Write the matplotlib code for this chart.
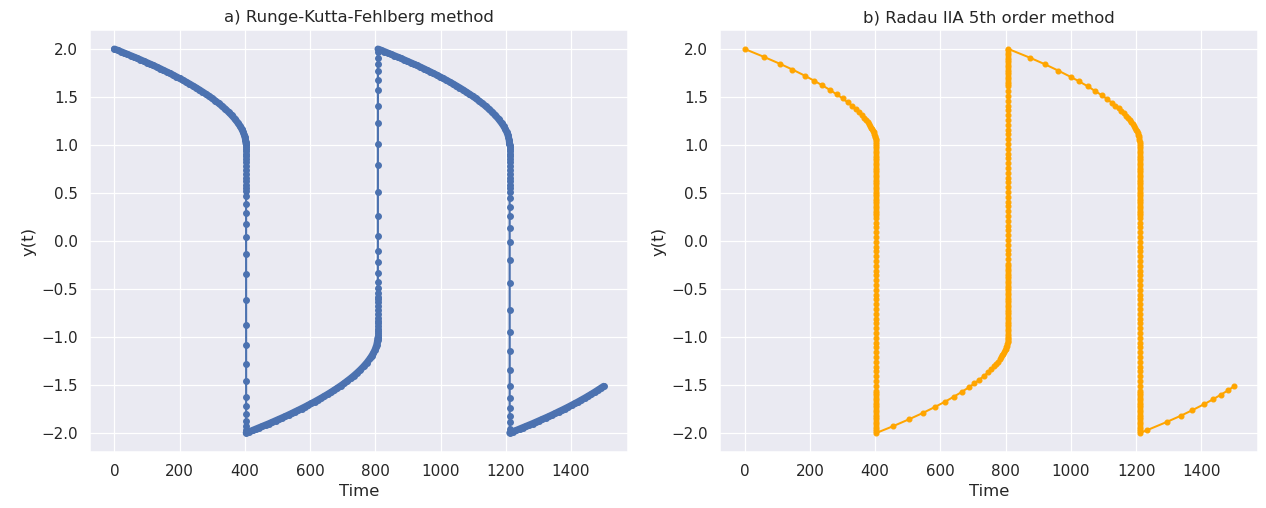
import matplotlib
matplotlib.use('Agg')
import matplotlib.pyplot as plt
import seaborn as sns
import numpy as np

# ---- values ----
# Runge-Kutta-Fehlberg: slow branches (dense steps) and the fast jumps
rkf_t_up1 = [0, 10, 20, 30, 40, 50, 60, 70, 80, 90, 100, 110, 120, 130, 140, 150, 160, 170, 180, 190,
             200, 210, 220, 230, 240, 250, 260, 270, 280, 290, 300, 310, 320, 330, 340, 350, 360, 370, 380,
             385, 390, 395, 398, 400, 402, 403, 403.3]
rkf_y_up1 = [2.000, 1.987, 1.973, 1.959, 1.945, 1.931, 1.917, 1.903, 1.888, 1.873, 1.858, 1.843, 1.828,
             1.812, 1.796, 1.779, 1.763, 1.746, 1.729, 1.711, 1.693, 1.675, 1.656, 1.637, 1.617, 1.597,
             1.576, 1.554, 1.532, 1.509, 1.485, 1.459, 1.433, 1.405, 1.375, 1.343, 1.308, 1.269, 1.224,
             1.198, 1.169, 1.134, 1.106, 1.086, 1.054, 1.028, 1.014]
rkf_drop1_y = [1.0, 0.98, 0.96, 0.94, 0.91, 0.88, 0.85, 0.82, 0.78, 0.74, 0.70, 0.66, 0.62, 0.58, 0.55,
               0.524, 0.466, 0.386, 0.290, 0.179, 0.041, -0.131, -0.345, -0.614, -0.876, -1.083, -1.286,
               -1.462, -1.621, -1.724, -1.803, -1.872, -1.924, -1.97]
rkf_t_low1 = [404, 414, 424, 434, 444, 454, 464, 474, 484, 494, 504, 514, 524, 534, 544, 554, 564, 574, 584,
              594, 604, 614, 624, 634, 644, 654, 664, 674, 684, 694, 704, 714, 724, 734, 744, 754, 764, 774,
              784, 789, 794, 799, 802, 804, 806, 807, 807.3]
rkf_y_low1 = [-2.000, -1.987, -1.973, -1.959, -1.945, -1.931, -1.917, -1.903, -1.888, -1.873, -1.858,
              -1.843, -1.828, -1.812, -1.796, -1.779, -1.763, -1.746, -1.729, -1.711, -1.693, -1.675,
              -1.656, -1.637, -1.617, -1.597, -1.576, -1.554, -1.532, -1.509, -1.485, -1.459, -1.433,
              -1.405, -1.375, -1.343, -1.308, -1.269, -1.224, -1.198, -1.169, -1.134, -1.106, -1.086,
              -1.054, -1.028, -1.014]
rkf_rise_y = [-1.0, -0.98, -0.96, -0.94, -0.92, -0.89, -0.86, -0.83, -0.80, -0.76, -0.72, -0.68, -0.64,
              -0.60, -0.579, -0.545, -0.493, -0.424, -0.331, -0.224, -0.100, 0.055, 0.255, 0.507, 0.790,
              1.007, 1.224, 1.407, 1.569, 1.679, 1.772, 1.841, 1.903, 1.966]
rkf_t_up2 = [808, 818, 828, 838, 848, 858, 868, 878, 888, 898, 908, 918, 928, 938, 948, 958, 968, 978, 988,
             998, 1008, 1018, 1028, 1038, 1048, 1058, 1068, 1078, 1088, 1098, 1108, 1118, 1128, 1138, 1148,
             1158, 1168, 1178, 1188, 1193, 1198, 1203, 1206, 1208, 1210, 1211, 1211.3]
rkf_y_up2 = [2.000, 1.987, 1.973, 1.959, 1.945, 1.931, 1.917, 1.903, 1.888, 1.873, 1.858, 1.843, 1.828,
             1.812, 1.796, 1.779, 1.763, 1.746, 1.729, 1.711, 1.693, 1.675, 1.656, 1.637, 1.617, 1.597,
             1.576, 1.554, 1.532, 1.509, 1.485, 1.459, 1.433, 1.405, 1.375, 1.343, 1.308, 1.269, 1.224,
             1.198, 1.169, 1.134, 1.106, 1.086, 1.054, 1.028, 1.014]
rkf_drop2_y = [1.0, 0.98, 0.96, 0.94, 0.91, 0.88, 0.85, 0.82, 0.78, 0.74, 0.70, 0.66, 0.62, 0.58, 0.55,
               0.514, 0.445, 0.352, 0.255, 0.131, -0.014, -0.200, -0.438, -0.717, -0.948, -1.148, -1.345,
               -1.510, -1.638, -1.741, -1.821, -1.890, -1.959]
rkf_t_low2 = [1212, 1222, 1232, 1242, 1252, 1262, 1272, 1282, 1292, 1302, 1312, 1322, 1332, 1342, 1352,
              1362, 1372, 1382, 1392, 1402, 1412, 1422, 1432, 1442, 1452, 1462, 1472, 1482, 1492, 1500]
rkf_y_low2 = [-2.000, -1.987, -1.973, -1.959, -1.945, -1.931, -1.917, -1.903, -1.888, -1.873, -1.858,
              -1.843, -1.828, -1.812, -1.796, -1.779, -1.763, -1.746, -1.729, -1.711, -1.693, -1.675,
              -1.656, -1.637, -1.617, -1.597, -1.576, -1.554, -1.532, -1.514]
rkf_jump_t = [403.8, 807.8, 1211.8]

# Radau IIA: few big steps on slow branches, many tiny ones in the jumps
radau_t_up1 = [0, 58.9, 108.4, 146.3, 184.2, 212.6, 237.9, 261.1, 282.1, 300.0, 315.8, 329.5, 341.1,
               351, 359, 366, 372, 377, 381, 385, 388, 391, 393.5, 395.5, 397.5, 399, 400.5, 401.5,
               402.3, 403, 403.3]
radau_y_up1 = [2.0, 1.918, 1.845, 1.786, 1.722, 1.670, 1.621, 1.574, 1.527, 1.485, 1.444, 1.406, 1.372,
               1.340, 1.312, 1.285, 1.261, 1.238, 1.219, 1.198, 1.181, 1.163, 1.145, 1.130, 1.112, 1.097,
               1.078, 1.064, 1.050, 1.028, 1.014]
radau_t_low1 = [404.2, 455.8, 505.3, 545.3, 582.1, 613.7, 641.1, 665.3, 686.3, 704.2, 719.0, 734.7, 747.4,
                756.2, 764.2, 771.2, 777.2, 782.2, 786.2, 790.2, 793.2, 796.2, 798.7, 800.7, 802.5, 803.9,
                805.1, 806.1, 806.8, 807.3, 807.6]
radau_y_low1 = [-2.0, -1.929, -1.856, -1.794, -1.732, -1.676, -1.623, -1.574, -1.527, -1.485, -1.446,
                -1.404, -1.366, -1.337, -1.308, -1.281, -1.257, -1.233, -1.214, -1.192, -1.175, -1.156,
                -1.138, -1.123, -1.103, -1.091, -1.074, -1.058, -1.040, -1.025, -1.010]
radau_t_up2 = [808.4, 873.7, 921.0, 961.0, 999.0, 1024.0, 1052.6, 1073.7, 1094.7, 1110.5, 1125.0, 1136.8,
               1146.4, 1154.9, 1162.4, 1169.4, 1175.4, 1180.9, 1185.4, 1189.4, 1193.4, 1196.9, 1199.9,
               1202.4, 1204.6, 1206.4, 1208.0, 1209.3, 1210.4, 1211.2, 1211.7]
radau_y_up2 = [2.0, 1.910, 1.840, 1.775, 1.710, 1.665, 1.609, 1.564, 1.518, 1.480, 1.442, 1.410, 1.381,
               1.355, 1.330, 1.304, 1.281, 1.259, 1.238, 1.219, 1.198, 1.178, 1.159, 1.141, 1.124, 1.106,
               1.092, 1.075, 1.054, 1.034, 1.014]
radau_t_low2 = [1212.6, 1232.6, 1294.7, 1337.9, 1372.6, 1409.5, 1434.7, 1461.0, 1482.0, 1500.0]
radau_y_low2 = [-2.0, -1.973, -1.885, -1.820, -1.763, -1.699, -1.652, -1.600, -1.556, -1.515]
radau_drop_y = [0.99, 0.965, 0.94, 0.915, 0.89, 0.865, 0.84, 0.815, 0.79, 0.765, 0.74, 0.715, 0.69, 0.665,
                0.64, 0.615, 0.59, 0.565, 0.54, 0.515, 0.49, 0.465, 0.44, 0.415, 0.39, 0.365, 0.34, 0.315,
                0.29, 0.265, 0.24, 0.19, 0.14, 0.09, 0.04,
                -0.01, -0.06, -0.11, -0.16, -0.21, -0.26, -0.31, -0.36, -0.41, -0.46, -0.51, -0.56, -0.61,
                -0.66, -0.71, -0.76, -0.81, -0.86, -0.91, -0.96, -1.01, -1.06, -1.11, -1.16, -1.21, -1.26,
                -1.31, -1.36, -1.41, -1.46, -1.51, -1.56, -1.585, -1.61, -1.635, -1.66, -1.685, -1.71,
                -1.735, -1.76, -1.785, -1.81, -1.835, -1.86, -1.885, -1.91, -1.935, -1.96, -1.985]
radau_rise_y = [-0.99, -0.965, -0.94, -0.915, -0.89, -0.865, -0.84, -0.815, -0.79, -0.765, -0.74, -0.715,
                -0.69, -0.665, -0.64, -0.615, -0.59, -0.565, -0.54, -0.515, -0.49, -0.465, -0.44, -0.415,
                -0.39, -0.365, -0.34, -0.315, -0.29, -0.265, -0.24,
                -0.19, -0.14, -0.09, -0.04, 0.01, 0.06, 0.11, 0.16, 0.21, 0.26, 0.31, 0.36, 0.41, 0.46,
                0.51, 0.56, 0.61, 0.66, 0.71, 0.76, 0.81, 0.86, 0.91, 0.96, 1.01, 1.06, 1.11, 1.16, 1.21,
                1.26, 1.31, 1.36, 1.41, 1.46, 1.51, 1.56, 1.61, 1.635, 1.66, 1.685, 1.71, 1.735, 1.76,
                1.785, 1.81, 1.835, 1.86, 1.885, 1.91, 1.935, 1.96, 1.985]
radau_jump_t = [403.8, 808.0, 1212.2]

titles = ['a) Runge-Kutta-Fehlberg method', 'b) Radau IIA 5th order method']


def join(slow_t, slow_y, jumps_y, jump_t):
    # slow branch, jump, slow branch, ... in time order
    t_all, y_all = [], []
    for i in range(len(slow_t)):
        t_all += list(slow_t[i])
        y_all += list(slow_y[i])
        if i < len(jumps_y):
            t_all += [jump_t[i]] * len(jumps_y[i])
            y_all += list(jumps_y[i])
    return np.array(t_all), np.array(y_all)


rkf_slow_t = [rkf_t_up1, rkf_t_low1, rkf_t_up2, rkf_t_low2]
rkf_slow_y = [rkf_y_up1, rkf_y_low1, rkf_y_up2, rkf_y_low2]
rkf_t, rkf_y = join(rkf_slow_t, rkf_slow_y, [rkf_drop1_y, rkf_rise_y, rkf_drop2_y], rkf_jump_t)
radau_t, radau_y = join([radau_t_up1, radau_t_low1, radau_t_up2, radau_t_low2],
                        [radau_y_up1, radau_y_low1, radau_y_up2, radau_y_low2],
                        [radau_drop_y, radau_rise_y, radau_drop_y], radau_jump_t)

sns.set_theme(font_scale=1.1)

fig, axes = plt.subplots(1, 2, figsize=(14, 5.62))

blue = '#4c72b0'
# RKF steps on the slow parts are so close that the markers merge into one band
for st, sy in zip(rkf_slow_t, rkf_slow_y):
    axes[0].plot(st, sy, linewidth=5.5, color=blue, solid_capstyle='round', solid_joinstyle='round')
axes[0].plot(rkf_t, rkf_y, marker='o', markersize=4.5, linewidth=1.7, color=blue)
axes[1].plot(radau_t, radau_y, marker='o', markersize=3.8, linewidth=1.6, color='orange')

for ax, title in zip(axes, titles):
    ax.set_title(title)
    ax.set_xlabel('Time')
    ax.set_ylabel('y(t)')
    ax.set_xticks([0, 200, 400, 600, 800, 1000, 1200, 1400])
    ax.set_yticks([-2.0, -1.5, -1.0, -0.5, 0.0, 0.5, 1.0, 1.5, 2.0])

plt.subplots_adjust(left=0.071, right=0.994, top=0.941, bottom=0.110, wspace=0.171)

plt.savefig('out.png', dpi=90.43)
